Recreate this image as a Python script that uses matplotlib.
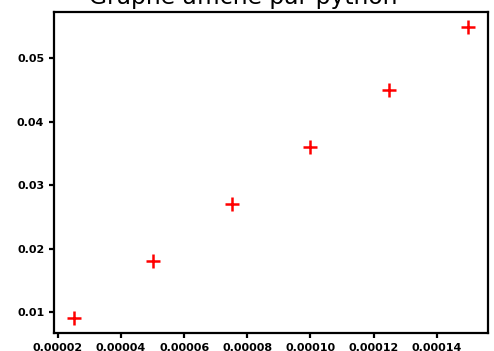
import matplotlib
matplotlib.use('Agg')
import matplotlib.pyplot as plt

x = [0.000025, 0.00005, 0.000075, 0.0001, 0.000125, 0.00015]
y = [0.009, 0.018, 0.027, 0.036, 0.045, 0.055]

fig = plt.figure(figsize=(4.94, 3.51), dpi=100)
ax = fig.add_axes([54/494, 18/351, 434/494, 321/351])
ax.plot(x, y, '+', color='red', markersize=10, markeredgewidth=1.8)
for s in ax.spines.values():
    s.set_linewidth(1.6)
ax.tick_params(width=1.6, length=3.5, labelsize=8)
for lab in ax.get_xticklabels() + ax.get_yticklabels():
    lab.set_fontweight('bold')
fig.text(0.492, 0.99, 'Graphe affiché par python', ha='center', va='baseline', fontsize=16.8)
fig.savefig('out.png', dpi=100)
